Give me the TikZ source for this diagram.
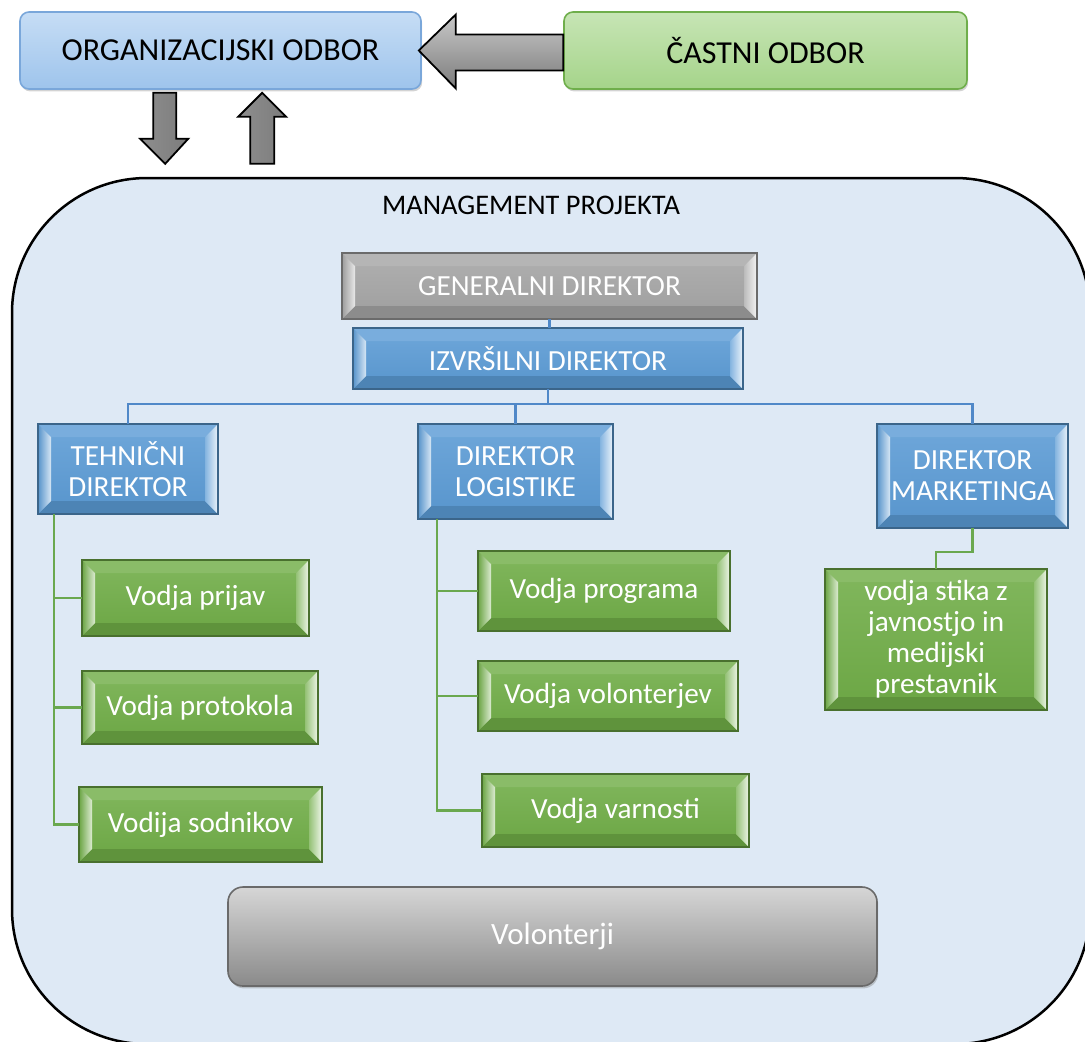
\documentclass[tikz,border=0pt]{standalone}
\usepackage{fontspec}
\setmainfont{Carlito}
\usetikzlibrary{calc,shadows}
\definecolor{cblue}{HTML}{5B9BD5}
\definecolor{cgreen}{HTML}{70AD47}
\definecolor{cgray}{HTML}{A5A5A5}
\definecolor{panel}{HTML}{DEE9F5}
\definecolor{bline}{HTML}{5088C8}
\definecolor{gline}{HTML}{6AA84F}
\definecolor{orgdraw}{HTML}{7AA7DA}
\definecolor{orgtop}{HTML}{C6DDF5}
\definecolor{orgbot}{HTML}{9EC4EC}
\definecolor{cadraw}{HTML}{6FAE4B}
\definecolor{catop}{HTML}{C7E5B5}
\definecolor{cabot}{HTML}{A5D48A}
\definecolor{arlight}{HTML}{C8C8C8}
\definecolor{armid}{HTML}{D0D0D0}
\definecolor{ardark}{HTML}{8E8E8E}
\definecolor{ardark2}{HTML}{7C7C7C}
\definecolor{voldraw}{HTML}{6A6A6A}
\definecolor{voltop}{HTML}{D6D6D6}
\definecolor{volbot}{HTML}{8A8A8A}
\newcommand\bfont{\fontsize{14.6}{15.5}\selectfont}
\newcommand\tfont{\fontsize{16}{18}\selectfont}
\newcommand\mfont{\fontsize{14.2}{16}\selectfont}
\newcommand\vfont{\fontsize{15.5}{18}\selectfont}
\tikzset{
  bev/.style={rectangle, inner sep=2pt, outer sep=0pt, align=center, text=white, font=\bfont,
    draw=#1!65!black, line width=0.6pt, top color=#1!88!white, bottom color=#1!96!black,
    path picture={
      \fill[#1!82!white] (path picture bounding box.north west) -- (path picture bounding box.north east)
        -- ([shift={(-6.5pt,-6.5pt)}]path picture bounding box.north east)
        -- ([shift={(6.5pt,-6.5pt)}]path picture bounding box.north west) -- cycle;
      \fill[#1!85!black] (path picture bounding box.south west) -- (path picture bounding box.south east)
        -- ([shift={(-6.5pt,6.5pt)}]path picture bounding box.south east)
        -- ([shift={(6.5pt,6.5pt)}]path picture bounding box.south west) -- cycle;
      \shade[left color=#1!95!black, right color=#1!25!white] (path picture bounding box.south west) -- (path picture bounding box.north west)
        -- ([shift={(6.5pt,-6.5pt)}]path picture bounding box.north west)
        -- ([shift={(6.5pt,6.5pt)}]path picture bounding box.south west) -- cycle;
      \shade[left color=#1!75!white, right color=#1!12!white] (path picture bounding box.south east) -- (path picture bounding box.north east)
        -- ([shift={(-6.5pt,-6.5pt)}]path picture bounding box.north east)
        -- ([shift={(-6.5pt,6.5pt)}]path picture bounding box.south east) -- cycle;
    }},
  topbox/.style={rectangle, rounded corners=4.5pt, font=\tfont, text=black, line width=0.8pt,
    drop shadow={shadow xshift=0.6pt, shadow yshift=-1.2pt, opacity=0.35}},
  blink/.style={draw=bline, line width=1.3pt},
  glink/.style={draw=gline, line width=1.3pt},
  barrow/.style={draw=black, line width=0.9pt, line join=miter},
}
\begin{document}
\begin{tikzpicture}[x=0.5pt,y=-0.5pt]
\path[use as bounding box] (0,0) rectangle (1085,1041);
\clip (0,0) rectangle (1085,1041);

% container
\node[draw=black, line width=1.25pt, fill=panel, rounded corners=67.5pt,
      minimum width=539pt, minimum height=433pt, inner sep=0pt] (mp) at (551,611) {};
\node[font=\mfont, anchor=base, inner sep=0pt] (mpl) at (531,214) {MANAGEMENT PROJEKTA};

% top boxes
\node[topbox, draw=orgdraw, top color=orgtop, bottom color=orgbot,
      minimum width=200.5pt, minimum height=38.5pt] (org) at (220.5,50.5) {ORGANIZACIJSKI ODBOR};
\node[topbox, draw=cadraw, top color=catop, bottom color=cabot,
      minimum width=201.5pt, minimum height=38.5pt] (cast) at (765.5,50.5) {ČASTNI ODBOR};

% block arrows
\draw[barrow, top color=arlight, bottom color=ardark2]
  ($(org.east)+(-3,0)$) -- ($(org.east)+(34,-36)$) -- ($(org.east)+(34,-16)$)
  -- ($(cast.west)+(0,-16)$) -- ($(cast.west)+(0,20)$)
  -- ($(org.east)+(34,20)$) -- ($(org.east)+(34,38)$) -- cycle;
\draw[barrow, left color=ardark, middle color=armid, right color=ardark2]
  ($(org.south west)+(134,3)$) -- ($(org.south west)+(157,3)$) -- ($(org.south west)+(157,49)$)
  -- ($(org.south west)+(169,49)$) -- ($(org.south west)+(146,74)$) -- ($(org.south west)+(121,49)$)
  -- ($(org.south west)+(134,49)$) -- cycle;
\draw[barrow, left color=ardark, middle color=armid, right color=ardark2]
  ($(org.south west)+(243,3)$) -- ($(org.south west)+(267,27)$) -- ($(org.south west)+(255,27)$)
  -- ($(org.south west)+(255,74)$) -- ($(org.south west)+(231,74)$) -- ($(org.south west)+(231,27)$)
  -- ($(org.south west)+(219,27)$) -- cycle;

% org chart nodes
\node[bev=cgray, minimum width=207.5pt, minimum height=33pt] (gen) at (549.5,286) {GENERALNI DIREKTOR};
\node[bev=cblue, minimum width=195pt, minimum height=30.5pt] (izv) at (548,358.5) {IZVRŠILNI DIREKTOR};
\node[bev=cblue, minimum width=90pt, minimum height=45pt] (teh) at (128,469) {TEHNIČNI\\DIREKTOR};
\node[bev=cblue, minimum width=97.5pt, minimum height=47.5pt] (log) at (515.5,471.5) {DIREKTOR\\LOGISTIKE};
\node[bev=cblue, minimum width=95.5pt, minimum height=52pt] (mar) at (972.5,476) {DIREKTOR\\MARKETINGA};

\node[bev=cgreen, minimum width=113.5pt, minimum height=38pt] (vp) at (195.5,598) {Vodja prijav};
\node[bev=cgreen, minimum width=118pt, minimum height=36.5pt] (vpr) at (200,707.5) {Vodja protokola};
\node[bev=cgreen, minimum width=121.5pt, minimum height=37.5pt] (vs) at (200.5,824.5) {Vodija sodnikov};
\node[bev=cgreen, minimum width=126pt, minimum height=40pt] (vprog) at (604,591) {Vodja programa};
\node[bev=cgreen, minimum width=130pt, minimum height=35pt] (vvol) at (608,696) {Vodja volonterjev};
\node[bev=cgreen, minimum width=133.5pt, minimum height=36.5pt] (vvar) at (615.5,810.5) {Vodja varnosti};
\node[bev=cgreen, minimum width=111pt, minimum height=70.5pt] (vst) at (936,639.5)
  {vodja stika z\\javnostjo in\\medijski\\prestavnik};

\node[rectangle, rounded corners=7.5pt, draw=voldraw, line width=0.8pt,
      top color=voltop, bottom color=volbot, text=white, font=\vfont,
      drop shadow={shadow xshift=0.6pt, shadow yshift=-1.2pt, opacity=0.4},
      minimum width=324.5pt, minimum height=49.5pt] (vol) at (552.5,936.5) {Volonterji};

% connectors
\coordinate (bus) at (548,404);
\coordinate (melb) at (936,552);
\draw[blink] (gen.south) -- (gen.south |- izv.north);
\draw[blink] (izv.south) -- (bus) -| (teh.north);
\draw[blink] (bus) -| (log.north);
\draw[blink] (bus) -| (mar.north);

\draw[glink] ([xshift=8pt]teh.south west) |- (vp.west);
\draw[glink] ([xshift=8pt]teh.south west) |- (vpr.west);
\draw[glink] ([xshift=8pt]teh.south west) |- (vs.west);
\draw[glink] ([xshift=9.5pt]log.south west) |- (vprog.west);
\draw[glink] ([xshift=9.5pt]log.south west) |- (vvol.west);
\draw[glink] ([xshift=9.5pt]log.south west) |- (vvar.west);
\draw[glink] (mar.south) |- (melb) -- (vst.north);
\end{tikzpicture}
\end{document}
